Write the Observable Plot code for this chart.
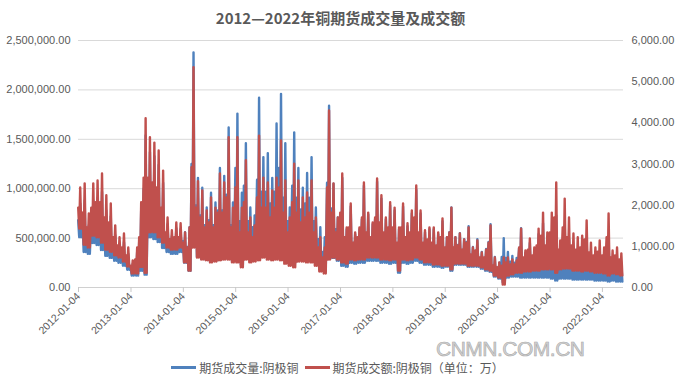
<!DOCTYPE html>
<html>
<head>
<meta charset="utf-8">
<script src="https://cdn.jsdelivr.net/npm/d3@7"></script>
<script src="https://cdn.jsdelivr.net/npm/@observablehq/plot@0.6"></script>
<style>
  html, body { margin: 0; padding: 0; background: #fff; }
  #wrap { position: relative; width: 681px; height: 387px; overflow: hidden; background: #fff; }
  #chart { position: absolute; left: 0; top: 0; }
  #title { position: absolute; left: 0; top: 8px; width: 681px; text-align: center;
           font: bold 15px "Noto Sans CJK SC", sans-serif; color: #595959; line-height: 20px; }
  #legend { position: absolute; left: 0; top: 359px; width: 681px; display: flex; justify-content: center;
            align-items: center; font: 12px "Noto Sans CJK SC", sans-serif; color: #595959; }
  #legend .sw { display: inline-block; width: 25px; height: 3px; margin-right: 3px; }
  #legend .item { display: flex; align-items: center; margin-right: 6px; }
  #wm { position: absolute; left: 436px; top: 337px; font: 21px "Liberation Sans", Arial, sans-serif;
        color: #d4d4d4; -webkit-text-stroke: 0.6px #a8a8a8; letter-spacing: -0.5px; }
</style>
</head>
<body>
<div id="wrap">
  <div id="chart"></div>
  <div id="title"></div>
  <div id="wm">CNMN.COM.CN</div>
  <div id="legend"></div>
</div>
<script>
// ---- Data (monthly envelope: low, typical level, high) ----
const titleText = "2012—2022年铜期货成交量及成交额";
const seriesNames = ["期货成交量:阴极铜", "期货成交额:阴极铜（单位：万）"];
const seriesColors = ["#4F81BD", "#C0504D"];
const xTickLabels = ["2012-01-04","2013-01-04","2014-01-04","2015-01-04","2016-01-04","2017-01-04",
                     "2018-01-04","2019-01-04","2020-01-04","2021-01-04","2022-01-04"];
const leftTicks = [0, 500000, 1000000, 1500000, 2000000, 2500000];
const rightTicks = [0, 1000, 2000, 3000, 4000, 5000, 6000];

// 成交量 (thousand lots), Jan 2012 – May 2022
const volHigh = [
  850,880,630,880,910,970,780,720,530,430,460,340,
  240,360,780,1540,1370,1330,1240,1060,640,520,600,590,
  560,610,2380,1110,1010,810,960,860,1210,1130,1620,860,
  1760,960,1460,810,730,1920,1320,1360,1110,1660,1960,1460,
  810,1570,1210,1010,1160,1320,810,610,510,1840,1050,710,
  1110,590,820,540,590,1030,740,640,1070,900,690,830,
  780,590,820,620,750,990,750,560,590,590,540,670,
  510,810,510,550,490,620,410,490,360,390,640,310,
  250,500,360,320,300,600,350,450,360,540,650,460,
  530,730,330,630,490,380,350,360,480,310,280,330,
  280,520,260,280,240
];
const volMid = [
  680,640,510,680,720,720,600,560,430,350,340,270,
  200,250,460,1000,1000,960,910,730,510,440,460,460,
  470,410,1250,830,730,630,680,630,780,780,940,630,
  1210,670,1030,670,610,1090,970,970,850,970,1210,910,
  670,1030,910,790,850,910,670,490,360,1060,800,590,
  740,500,590,450,500,690,540,500,690,640,540,590,
  590,440,590,490,540,680,540,440,470,440,400,490,
  400,560,400,430,380,460,330,370,300,300,460,220,
  200,310,300,260,250,400,280,340,290,380,450,340,
  380,500,270,430,350,290,270,280,340,250,220,250,
  220,350,210,220,200
];
const volLow = [
  510,360,340,450,430,380,320,300,270,250,220,180,
  120,120,170,130,510,490,460,400,360,340,340,360,
  250,170,430,310,290,280,260,270,280,290,300,270,
  290,230,330,290,300,320,350,330,320,330,320,290,
  270,250,320,310,300,290,260,200,180,290,300,270,
  220,210,250,240,250,250,270,270,270,250,250,240,
  250,150,250,240,250,270,250,230,230,210,210,200,
  210,170,230,230,230,210,210,210,190,170,160,110,
  90,50,100,110,110,100,100,100,100,100,100,100,
  90,70,90,90,90,80,80,80,80,80,70,70,
  70,60,70,60,60
];
// 成交额 (right-axis units), Jan 2012 – May 2022
const amtHigh = [
  2430,2530,1800,2530,2600,2770,2240,2040,1510,1220,1310,970,
  660,970,2070,4110,3650,3520,3330,2840,1700,1390,1580,1560,
  1340,1460,5350,2580,2360,1870,2190,1940,2770,2550,3650,1940,
  3650,1940,3090,1700,1510,3690,2670,2550,2360,2670,3570,2600,
  1700,3010,2600,2190,2310,2600,1700,1220,970,4300,2530,1700,
  2770,1460,2040,1340,1460,2550,1820,1580,2650,2240,1700,2070,
  1940,1460,2040,1560,1870,2480,1870,1390,1460,1460,1340,1680,
  1220,1940,1220,1310,1170,1460,970,1140,850,920,1510,730,
  610,730,730,680,660,1430,900,1190,970,1430,1820,1340,
  1820,2550,1140,2160,1700,1310,1220,1260,1630,1090,970,1140,
  970,1800,900,970,830
];
const amtMid = [
  1940,1820,1460,1940,2070,2070,1700,1580,1220,1020,970,780,
  530,680,1220,2670,2670,2550,2430,1940,1340,1170,1220,1220,
  1090,970,2920,1940,1700,1460,1580,1460,1820,1820,2190,1460,
  2430,1340,2070,1340,1220,2190,1940,1940,1700,1940,2430,1820,
  1340,2070,1820,1580,1700,1820,1340,970,730,2430,1820,1340,
  1820,1220,1460,1090,1220,1700,1340,1220,1700,1580,1340,1460,
  1460,1090,1460,1220,1340,1700,1340,1090,1170,1090,1020,1220,
  970,1340,970,1020,920,1090,800,900,730,730,1090,530,
  490,530,610,560,560,970,730,920,780,1020,1260,1020,
  1340,1700,920,1460,1220,1020,920,970,1170,850,780,870,
  780,1220,730,780,680
];
const amtLow = [
  1430,1040,970,1260,1220,1090,920,870,780,730,630,510,
  340,340,500,360,1340,1340,1220,1090,970,920,920,970,
  610,410,970,730,680,660,610,630,660,680,680,610,
  610,490,680,610,630,660,730,680,660,680,660,580,
  530,490,630,630,610,610,530,390,340,680,730,680,
  610,580,680,660,680,680,730,730,730,680,680,660,
  680,410,680,660,680,730,680,610,610,560,560,530,
  530,440,580,580,580,530,530,530,490,440,410,290,
  240,70,290,320,360,360,390,390,410,410,440,440,
  440,360,440,460,460,410,410,390,410,390,360,360,
  340,290,340,320,290
];

// ---- Build ----
const months = d3.utcMonths(new Date(Date.UTC(2012, 0, 1)), new Date(Date.UTC(2022, 5, 1)));
function series(lo, mid, hi, k) {
  return months.flatMap((m, i) => [
    {date: d3.utcDay.offset(m, 1), v: mid[i] * k},
    {date: d3.utcDay.offset(m, 8), v: lo[i] * k},
    {date: d3.utcDay.offset(m, 15), v: hi[i] * k},
    {date: d3.utcDay.offset(m, 22), v: lo[i] * k}
  ]);
}
const volSeries = series(volLow, volMid, volHigh, 1000);
const amtSeries = series(amtLow, amtMid, amtHigh, 1);
const ratio = 2500000 / 6000; // right axis -> left axis
const parse = d3.utcParse("%Y-%m-%d");
const xTicks = xTickLabels.map(parse);
const fmt2 = d3.format(",.2f");

const chart = Plot.plot({
  width: 681, height: 387,
  marginLeft: 78, marginRight: 58, marginTop: 40, marginBottom: 100,
  style: {fontFamily: "'Liberation Sans', Arial, sans-serif", fontSize: "11px", color: "#595959", background: "transparent"},
  x: {type: "utc", domain: [parse("2012-01-04"), parse("2022-05-31")]},
  y: {domain: [0, 2500000]},
  marks: [
    Plot.gridY(leftTicks, {stroke: "#d9d9d9", strokeOpacity: 1}),
    Plot.ruleY([0], {stroke: "#d0d0d0"}),
    Plot.axisX(xTicks, {tickFormat: d3.utcFormat("%Y-%m-%d"), tickRotate: -45, tickSize: 5,
                        tickPadding: 2, stroke: "#c8c8c8", fill: "#595959", label: null, fontSize: 10.5}),
    Plot.axisY(leftTicks, {anchor: "left", tickFormat: fmt2, tickSize: 0, tickPadding: 8, label: null}),
    Plot.axisY(rightTicks.map(v => v * ratio), {anchor: "right", tickFormat: v => fmt2(Math.round(v / ratio)),
                        tickSize: 0, tickPadding: 8, label: null}),
    Plot.line(volSeries, {x: "date", y: "v", stroke: seriesColors[0], strokeWidth: 2.4, strokeLinejoin: "round"}),
    Plot.line(amtSeries, {x: "date", y: d => d.v * ratio, stroke: seriesColors[1], strokeWidth: 2.4, strokeLinejoin: "round"})
  ]
});
document.getElementById("chart").appendChild(chart);
document.getElementById("title").textContent = titleText;

const legend = document.getElementById("legend");
seriesNames.forEach((name, i) => {
  const item = document.createElement("span");
  item.className = "item";
  const sw = document.createElement("span");
  sw.className = "sw";
  sw.style.background = seriesColors[i];
  item.appendChild(sw);
  item.appendChild(document.createTextNode(name));
  legend.appendChild(item);
});
</script>
</body>
</html>
